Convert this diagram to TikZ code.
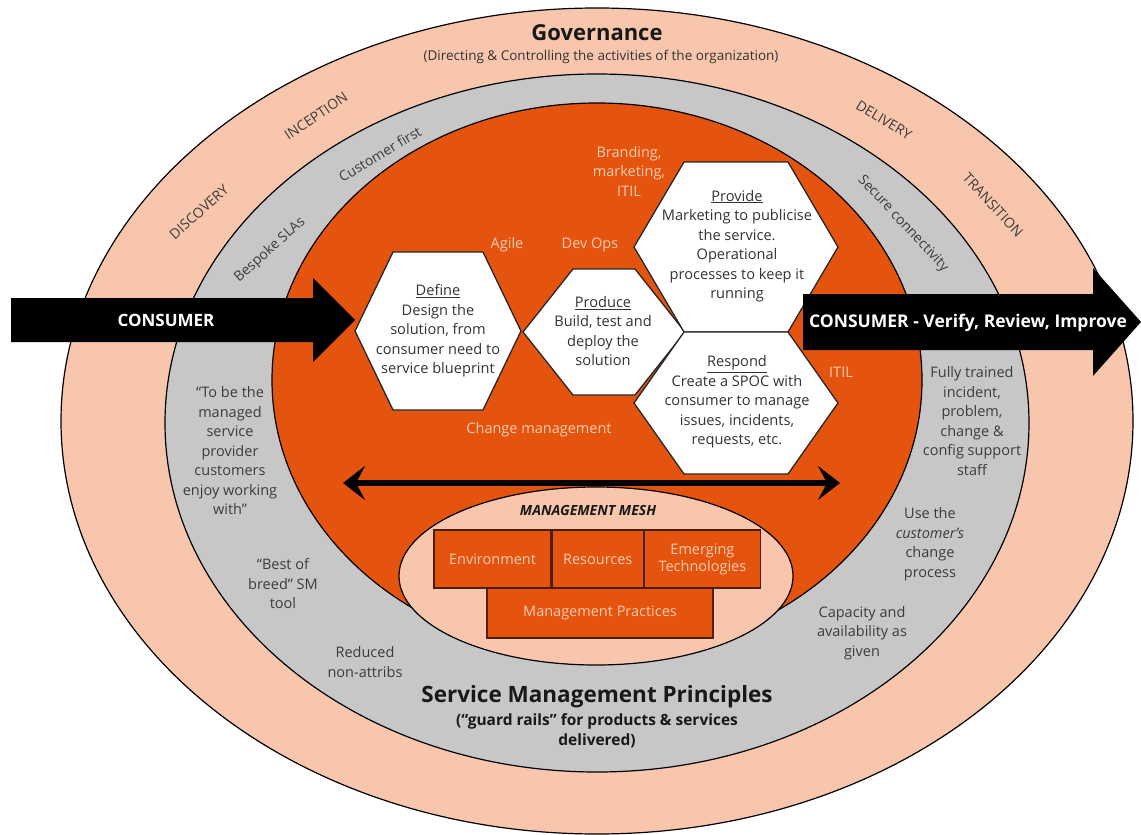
\documentclass[tikz,border=0pt]{standalone}
\usepackage{fontspec}
\setmainfont{Open Sans}
\usepackage{xcolor}
\usetikzlibrary{arrows.meta}
\usetikzlibrary{calc}
\usetikzlibrary{positioning}
\definecolor{govpeach}{HTML}{F8C6AC}
\definecolor{smpgray}{HTML}{C7C7C7}
\definecolor{coreorange}{HTML}{E5540F}
\definecolor{coretext}{HTML}{F9CBB0}
\definecolor{ringtext}{HTML}{3C3C3C}
\definecolor{boxline}{HTML}{4A1E08}
\tikzset{
    ring/.style={draw=black, line width=1.2pt},
    hexcell/.style={draw=black!85, line width=1.3pt, fill=white},
    hextext/.style={align=center, text=black!80, font=\fontsize{14.6}{19.5}\selectfont},
    ringlabel/.style={text=ringtext, font=\fontsize{14}{19.5}\selectfont},
    graylabel/.style={align=center, text=ringtext, font=\fontsize{14.5}{19.5}\selectfont},
    corelabel/.style={align=center, text=coretext, font=\fontsize{14.5}{19.5}\selectfont},
    meshbox/.style={draw=boxline, line width=1.2pt, fill=coreorange, text=coretext, align=center, inner sep=0pt, font=\fontsize{14.5}{17}\selectfont},
    arrowtext/.style={text=white, font=\bfseries\fontsize{17.5}{20}\selectfont}
}
% hexagon: centre, half width, half height, half top side
\newcommand{\hexcell}[4]{%
    \draw[hexcell] ($(#1)+(-#2,0)$) -- ($(#1)+(-#4,-#3)$) -- ($(#1)+(#4,-#3)$)
        -- ($(#1)+(#2,0)$) -- ($(#1)+(#4,#3)$) -- ($(#1)+(-#4,#3)$) -- cycle;}

\begin{document}
\begin{tikzpicture}[x=1pt, y=-1pt]
    \useasboundingbox (0,0) rectangle (1141,835);
    % rings
    \draw[ring, fill=govpeach] (597,421) ellipse [x radius=536, y radius=413];
    \draw[ring, fill=smpgray] (597,423) ellipse [x radius=432, y radius=349];
    \draw[ring, fill=coreorange] (597,380) ellipse [x radius=325, y radius=277];
    \draw[ring, fill=govpeach] (596,576) ellipse [x radius=197, y radius=89];

    % governance ring
    \node[font=\bfseries\fontsize{22}{25}\selectfont, text=black!90] (gov) at (597,33) {Governance};
    \node[font=\fontsize{13.5}{15}\selectfont, text=black!80] (govsub) at (601,57) {(Directing \& Controlling the activities of the organization)};
    \node[ringlabel, rotate=42] (disc) at (199,212) {DISCOVERY};
    \node[ringlabel, rotate=34] (incep) at (316,116) {INCEPTION};
    \node[ringlabel, rotate=-31] (deliv) at (884,120) {DELIVERY};
    \node[ringlabel, rotate=-47] (trans) at (993,205) {TRANSITION};

    % service management ring
    \node[ringlabel, rotate=42] (slas) at (270,250) {Bespoke SLAs};
    \node[ringlabel, rotate=31] (custfirst) at (380,154) {Customer first};
    \node[ringlabel, rotate=-47] (secure) at (903,224) {Secure connectivity};
    \node[graylabel] (tobe) at (230,451) {“To be the\\managed\\service\\provider\\customers\\enjoy working\\with”};
    \node[graylabel] (bestof) at (283,584) {“Best of\\breed” SM\\tool};
    \node[graylabel] (reduced) at (365,662) {Reduced\\non-attribs};
    \node[graylabel] (trained) at (972,421) {Fully trained\\incident,\\problem,\\change \&\\config support\\staff};
    \node[graylabel] (usethe) at (930,544) {Use the\\\textit{customer’s}\\change\\process};
    \node[graylabel] (capacity) at (862,633) {Capacity and\\availability as\\given};
    \node[align=center, text=black!90, font=\bfseries\fontsize{22.5}{26}\selectfont] (smp) at (597,697) {Service Management Principles};
    \node[align=center, text=black!90, font=\bfseries\fontsize{15.5}{20}\selectfont, below=-2pt of smp] (smpsub) {(“guard rails” for products \& services\\delivered)};

    % core
    \node[corelabel] (agile) at (507,245) {Agile};
    \node[corelabel] (devops) at (590,245) {Dev Ops};
    \node[corelabel] (brand) at (629,171) {Branding,\\marketing,\\ITIL};
    \node[corelabel] (itil) at (841,372) {ITIL};
    \node[corelabel] (change) at (539,430) {Change management};

    % hexagons
    \coordinate (cdef) at (438,331);
    \coordinate (cpro) at (604,332);
    \coordinate (cprv) at (736,247);
    \coordinate (cres) at (736,403);
    \hexcell{cdef}{83}{79}{45}
    \hexcell{cpro}{81}{63}{31}
    \hexcell{cprv}{102}{85}{52}
    \hexcell{cres}{102}{71}{52}
    \node[hextext] (define) at (cdef) {\underline{Define}\\Design the\\solution, from\\consumer need to\\service blueprint};
    \node[hextext] (produce) at ($(cpro)+(-1,-1)$) {\underline{Produce}\\Build, test and\\deploy the\\solution};
    \node[hextext] (provide) at ($(cprv)+(1,-1)$) {\underline{Provide}\\Marketing to publicise\\the service.\\Operational\\processes to keep it\\running};
    \node[hextext] (respond) at ($(cres)+(1,-1)$) {\underline{Respond}\\Create a SPOC with\\consumer to manage\\issues, incidents,\\requests, etc.};

    % management mesh
    \node[font=\bfseries\itshape\fontsize{14}{16}\selectfont, text=black!90] (mesh) at (588,510) {MANAGEMENT MESH};
    \node[meshbox, minimum width=117pt, minimum height=58pt] (env) at (492.5,559) {Environment};
    \node[meshbox, minimum width=91pt, minimum height=58pt, right=0pt of env] (res) {Resources};
    \node[meshbox, minimum width=116pt, minimum height=58pt, right=0pt of res] (emt) {Emerging\\Technologies};
    \node[meshbox, minimum width=226pt, minimum height=50pt] (practices) at (600,613) {Management Practices};

    % arrows
    \coordinate (ml) at (343,483);
    \coordinate (mr) at (840,483);
    \draw[line width=6pt, {Stealth[length=22pt, width=34pt, inset=9pt]}-{Stealth[length=22pt, width=34pt, inset=9pt]}] (ml) -- (mr);
    \fill[black] (11,298) -- (313,298) -- (313,278) -- (355,320) -- (313,362) -- (313,342) -- (11,342) -- cycle;
    \node[arrowtext, font=\bfseries\fontsize{17}{19}\selectfont] (consumer) at (166,320) {CONSUMER};
    \fill[black] (803,294) -- (1093,294) -- (1093,268) -- (1141,322) -- (1093,376) -- (1093,350) -- (803,350) -- cycle;
    \node[arrowtext] (verify) at (968,323) {CONSUMER - Verify, Review, Improve};
\end{tikzpicture}
\end{document}
